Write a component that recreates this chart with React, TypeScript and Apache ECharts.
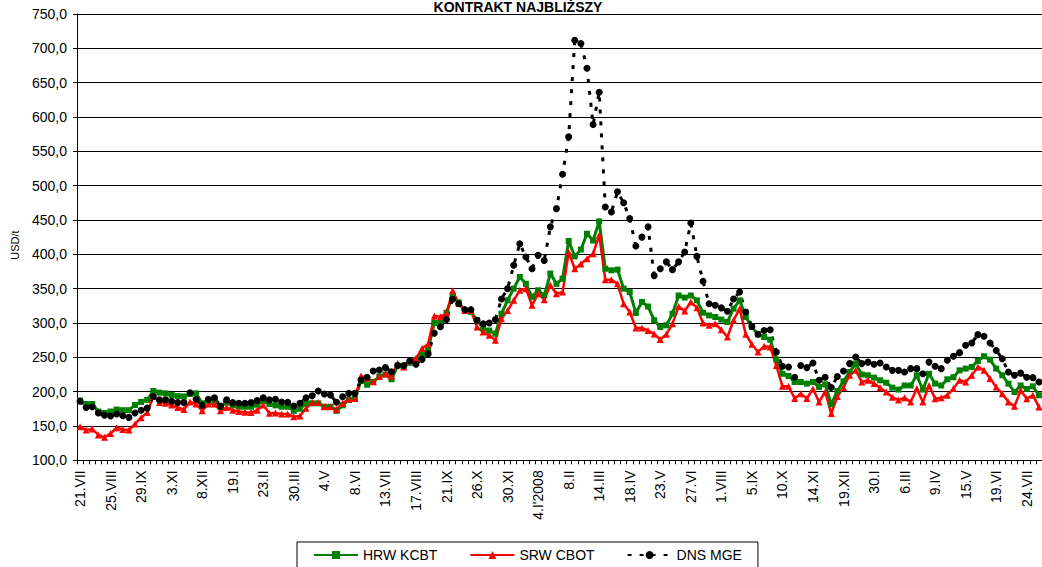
import React, { useEffect, useRef } from "react";
import * as echarts from "echarts";

const tickLabels = ["21.VII", "25.VIII", "29.IX", "3.XI", "8.XII", "19.I", "23.II", "30.III", "4.V", "8.VI", "13.VII", "17.VIII", "21.IX", "26.X", "30.XI", "4.I'2008", "8.II", "14.III", "18.IV", "23.V", "27.VI", "1.VIII", "5.IX", "10.X", "14.XI", "19.XII", "30.I", "6.III", "9.IV", "15.V", "19.VI", "24.VII"];

const hrwKcbt = [
  187, 182, 182, 171, 169, 171, 174, 173, 173, 180.5, 185, 188, 201, 198.5, 197.5, 195, 193.5, 193, 196.5, 197.5, 183, 187, 188, 178, 184, 180, 178, 178, 178, 181, 186, 182,
  180, 178, 178, 172, 175, 183, 183, 183, 178, 178, 172, 180, 188, 190, 216, 210, 214, 222, 225, 218, 238, 236, 242, 246, 255, 262, 300, 302, 315, 340, 330, 318,
  316, 304, 292, 289, 284.5, 313.6, 333, 350, 367, 357, 338, 347.6, 340, 372, 357, 364.5, 419.4, 397, 407, 430, 420, 448, 379, 376.7, 377.7, 350, 345, 314.6, 330.6, 324, 304,
  294, 296.6, 313.6, 340, 337, 340, 333, 315, 311, 308.7, 304.9, 301.5, 320.9, 333, 308.7, 294, 283.5, 279.6, 275.7, 247, 226, 222.8, 214, 214, 211.7, 214, 206.8, 210.7, 181.5, 201, 215,
  228.6, 240.8, 225, 223.8, 220.4, 216.5, 213, 205.8, 203, 209, 209, 223.8, 203, 226, 211.7, 209, 218, 221, 231, 233.5, 236, 244.7, 251.5, 246.6, 233.5, 223.8, 211.7, 199.5, 209, 204, 207.8, 194.7
];

const srwCbot = [
  149, 144, 145.5, 137, 133.5, 139, 147.5, 145, 144, 153, 162, 169.5, 193, 184, 183, 180.5, 177, 174, 185, 182, 172, 182, 182, 172, 177, 173, 171, 170, 169.5, 173, 180.5, 168.5,
  169, 167.5, 167.5, 163.5, 164.5, 175.7, 184, 184, 178, 178, 174, 183, 189, 190, 222.8, 219.4, 214.5, 222, 225.6, 222.8, 241, 236, 245, 248.5, 263, 269.4, 310, 309, 314, 347, 328.6, 318,
  318, 294, 287, 282, 274.8, 306, 318, 333, 347.6, 350, 325.7, 342.7, 334, 355, 342.7, 345, 403, 379, 386, 393.7, 401, 427.7, 363, 363, 357, 328, 316, 292.7, 292.7, 289, 284,
  276, 283.5, 299, 324, 317.5, 330.6, 322, 300, 296.6, 299, 290, 279.6, 304, 320.9, 283.5, 269, 257.8, 266, 265, 238, 207.8, 207.8, 190, 197, 190, 204, 185, 199.5, 168, 193, 206,
  223.8, 231, 214, 216.5, 211.7, 205.8, 199.5, 192, 188, 191, 185, 204.4, 185, 209, 189.8, 191, 194.7, 204.4, 216.5, 214, 223.8, 236, 231, 219, 206.8, 197, 185, 178.6, 202, 189.8, 194.7, 177.7
];

const dnsMge = [
  186, 177, 178, 169, 165.5, 164.5, 167.5, 165, 162.5, 169, 173, 176, 193, 188, 188, 186, 184, 184, 198.5, 189, 180, 189, 191, 179, 188, 184, 183, 183, 184, 187, 191, 188,
  189, 185, 184.5, 179, 183, 191, 194, 201, 196.5, 195, 184.5, 192.5, 197.5, 197.5, 217, 221, 230, 231.5, 235, 229, 238, 238, 245, 240, 247, 255, 285, 294.6, 305, 334.5, 328, 319.4,
  319.4, 304, 299, 300, 305, 335, 350, 384, 415.5, 396, 379, 398.5, 391, 440, 466.5, 516.5, 571, 711.7, 707, 671, 589, 636, 469, 461.7, 491, 475, 452, 412, 425, 440, 369,
  379, 389, 377.7, 389, 403.4, 445.6, 397, 360.7, 328, 325.7, 322, 317, 335, 345, 316, 295, 283.5, 289, 290, 257.8, 237, 236, 221, 238, 235, 241.7, 216.5, 221, 206, 222, 230,
  240.8, 250.5, 240.8, 243, 239.8, 241.7, 236, 231, 231, 228.6, 233.5, 233.5, 226, 243, 237, 233.5, 245.6, 251.5, 256.8, 267.5, 270.9, 283, 280.6, 270.9, 260, 248, 228.6, 223.8, 227, 221, 220.4, 214
];

const FONT = "'Liberation Sans', Arial, sans-serif";

export default function App() {
  const ref = useRef<HTMLDivElement>(null);
  useEffect(() => {
    if (!ref.current) return;
    const chart = echarts.init(ref.current, undefined, { renderer: "svg" });
    const categories = hrwKcbt.map((_, i) => String(i));
    chart.setOption({
      animation: false,
      backgroundColor: "#ffffff",
      textStyle: { fontFamily: FONT },
      grid: { left: 77, top: 14, width: 966.3, height: 446.3, containLabel: false },
      graphic: [
        {
          type: "text",
          x: 518,
          y: 0,
          z: 10,
          style: { text: "KONTRAKT NAJBLIŻSZY", textAlign: "center", textVerticalAlign: "top", font: `bold 14px ${FONT}`, fill: "#000" },
        },
        {
          type: "text",
          x: 15,
          y: 245,
          rotation: Math.PI / 2,
          style: { text: "USD/t", textAlign: "center", textVerticalAlign: "middle", font: `11px ${FONT}`, fill: "#000" },
        },
      ],
      legend: {
        left: 297,
        top: 542,
        padding: [6, 16, 20, 16],
        itemGap: 32,
        itemWidth: 44,
        itemHeight: 10,
        borderColor: "#000",
        borderWidth: 1,
        textStyle: { fontSize: 14, color: "#000", fontFamily: FONT },
        data: ["HRW KCBT", "SRW CBOT", "DNS MGE"],
      },
      xAxis: {
        type: "category",
        data: categories,
        boundaryGap: true,
        axisLine: { lineStyle: { color: "#000", width: 1 } },
        axisTick: { show: true, interval: 0, length: 4, lineStyle: { color: "#000" } },
        axisLabel: {
          interval: 4,
          rotate: 90,
          margin: 10,
          fontSize: 14,
          color: "#000",
          fontFamily: FONT,
          formatter: (_v: string, idx: number) => tickLabels[idx / 5] ?? "",
        },
        splitLine: { show: false },
      },
      yAxis: {
        type: "value",
        min: 100,
        max: 750,
        interval: 50,
        axisLine: { show: true, lineStyle: { color: "#000", width: 1 } },
        axisTick: { show: true, length: 4, lineStyle: { color: "#000" } },
        axisLabel: {
          margin: 10,
          fontSize: 14,
          color: "#000",
          fontFamily: FONT,
          formatter: (v: number) => v.toFixed(1).replace(".", ","),
        },
        splitLine: { show: true, lineStyle: { color: "#000", width: 1 } },
      },
      series: [
        {
          name: "HRW KCBT",
          type: "line",
          data: hrwKcbt,
          symbol: "rect",
          symbolSize: 6,
          showAllSymbol: true,
          lineStyle: { color: "#008000", width: 3 },
          itemStyle: { color: "#008000" },
        },
        {
          name: "SRW CBOT",
          type: "line",
          data: srwCbot,
          symbol: "triangle",
          symbolSize: 7,
          showAllSymbol: true,
          lineStyle: { color: "#ff0000", width: 2.5 },
          itemStyle: { color: "#ff0000" },
        },
        {
          name: "DNS MGE",
          type: "line",
          data: dnsMge,
          symbol: "circle",
          symbolSize: 7,
          showAllSymbol: true,
          lineStyle: { color: "#000", width: 3, type: [4, 8] },
          itemStyle: { color: "#000" },
        },
      ],
    });
    return () => chart.dispose();
  }, []);
  return <div ref={ref} style={{ position: "absolute", left: 0, top: 0, width: 1042, height: 567 }} />;
}
